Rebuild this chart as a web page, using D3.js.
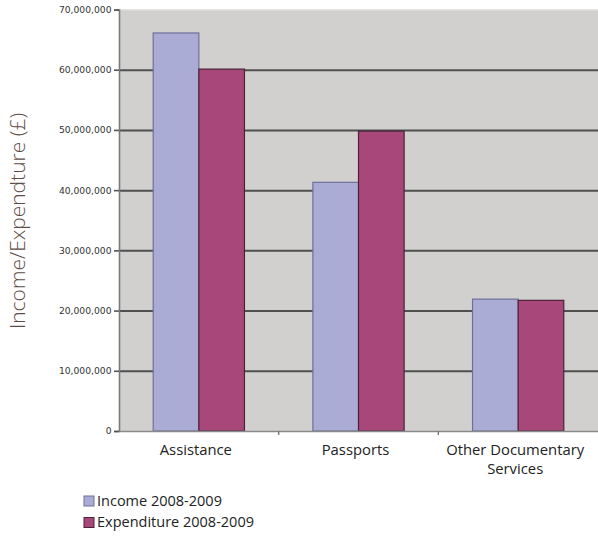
<!DOCTYPE html>
<html>
<head>
<meta charset="utf-8">
<script src="https://cdn.jsdelivr.net/npm/d3@7/dist/d3.min.js"></script>
<style>
  html, body { margin: 0; padding: 0; background: #ffffff; }
  svg { display: block; }
</style>
</head>
<body>
<svg id="chart" width="598" height="536"></svg>
<script>
// Consular income and expenditure by service, 2008-2009 (£)
const categories = ["Assistance", "Passports", "Other Documentary Services"];
const categoryLines = [["Assistance"], ["Passports"], ["Other Documentary", "Services"]];
const seriesNames = ["Income 2008-2009", "Expenditure 2008-2009"];
const income = [66100000, 41300000, 21900000];
const expenditure = [60100000, 49800000, 21700000];
const yTicks = [0, 10000000, 20000000, 30000000, 40000000, 50000000, 60000000, 70000000];
const yTitle = "Income/Expendture (£)";

const colors = ["#abacd6", "#a8477a"];
const strokes = ["#6f6f9c", "#4c2239"];

const svg = d3.select("#chart");
const plot = { left: 119, right: 598, top: 9.5, bottom: 431 };

const y = d3.scaleLinear().domain([0, 70000000]).range([plot.bottom, plot.top]);
const x0 = d3.scaleBand().domain(categories).range([plot.left, plot.right]).padding(0);
const x1 = d3.scaleBand().domain(seriesNames).range([0, x0.bandwidth()])
  .paddingInner(0).paddingOuter(0.75);

// plot background
svg.append("rect")
  .attr("x", plot.left).attr("y", plot.top)
  .attr("width", plot.right - plot.left).attr("height", plot.bottom - plot.top)
  .attr("fill", "#d1d0ce");
svg.append("line")
  .attr("x1", plot.left).attr("x2", plot.right)
  .attr("y1", plot.top + 0.5).attr("y2", plot.top + 0.5)
  .attr("stroke", "#e2e1df").attr("stroke-width", 1);

// horizontal gridlines
const grid = svg.append("g")
  .attr("transform", `translate(${plot.left},0)`)
  .call(d3.axisLeft(y).tickValues(yTicks.filter(v => v > 0 && v < 70000000))
    .tickSize(-(plot.right - plot.left)).tickFormat(""));
grid.select(".domain").remove();
grid.selectAll(".tick line").attr("stroke", "#4f4f4f").attr("stroke-width", 2);

// bars
const rows = categories.map((c, i) => ({ cat: c, vals: [income[i], expenditure[i]] }));
const groups = svg.append("g").selectAll("g").data(rows).join("g")
  .attr("transform", d => `translate(${x0(d.cat)},0)`);
groups.selectAll("rect")
  .data(d => d.vals.map((v, j) => ({ key: seriesNames[j], v, j })))
  .join("rect")
  .attr("x", d => x1(d.key))
  .attr("y", d => y(d.v))
  .attr("width", x1.bandwidth())
  .attr("height", d => y(0) - y(d.v))
  .attr("fill", d => colors[d.j])
  .attr("stroke", d => strokes[d.j])
  .attr("stroke-width", 1.2);

// y axis
const yAxis = svg.append("g")
  .attr("transform", `translate(${plot.left},0)`)
  .call(d3.axisLeft(y).tickValues(yTicks).tickFormat(d3.format(",")).tickSize(5).tickPadding(2.5));
yAxis.select(".domain").attr("stroke", "#7a7a7a").attr("stroke-width", 1.6);
yAxis.selectAll(".tick line").attr("stroke", "#555").attr("stroke-width", 1.6);
yAxis.selectAll(".tick text")
  .attr("font-family", "DejaVu Sans, Verdana, sans-serif")
  .attr("font-size", 9.2).attr("fill", "#333");

// x axis
const xAxis = svg.append("g")
  .attr("transform", `translate(0,${plot.bottom})`)
  .call(d3.axisBottom(x0).tickSize(0).tickFormat(""));
xAxis.select(".domain").attr("stroke", "#8a8a8a").attr("stroke-width", 1.6);
svg.append("g").selectAll("line")
  .data(categories.slice(1))
  .join("line")
  .attr("x1", d => x0(d)).attr("x2", d => x0(d))
  .attr("y1", plot.bottom).attr("y2", plot.bottom + 4)
  .attr("stroke", "#777").attr("stroke-width", 1.4);

// category labels, one text element per line
const labelLines = categories.flatMap((c, i) =>
  categoryLines[i].map((line, k) => ({ cat: c, line, k })));
svg.append("g").selectAll("text")
  .data(labelLines)
  .join("text")
  .attr("x", d => x0(d.cat) + x0.bandwidth() / 2 - 3)
  .attr("y", d => 454.5 + d.k * 19.5)
  .attr("text-anchor", "middle")
  .attr("font-family", "Open Sans, Noto Sans, sans-serif")
  .attr("font-size", 14.8).attr("fill", "#222")
  .text(d => d.line);

// y axis title
svg.append("text")
  .attr("transform", "translate(25,221) rotate(-90)")
  .attr("text-anchor", "middle")
  .attr("font-family", "Open Sans, Noto Sans, sans-serif")
  .attr("font-weight", 300)
  .attr("font-size", 21).attr("fill", "#5e4c46")
  .text(yTitle);

// legend
const legend = svg.append("g").selectAll("g").data(seriesNames).join("g")
  .attr("transform", (d, i) => `translate(84,${496 + i * 21.5})`);
legend.append("rect")
  .attr("width", 10).attr("height", 10)
  .attr("fill", (d, i) => colors[i])
  .attr("stroke", (d, i) => strokes[i]).attr("stroke-width", 1);
legend.append("text")
  .attr("x", 13).attr("y", 9.5)
  .attr("font-family", "Open Sans, Noto Sans, sans-serif")
  .attr("font-size", 14.5).attr("fill", "#222")
  .text(d => d);
</script>
</body>
</html>
